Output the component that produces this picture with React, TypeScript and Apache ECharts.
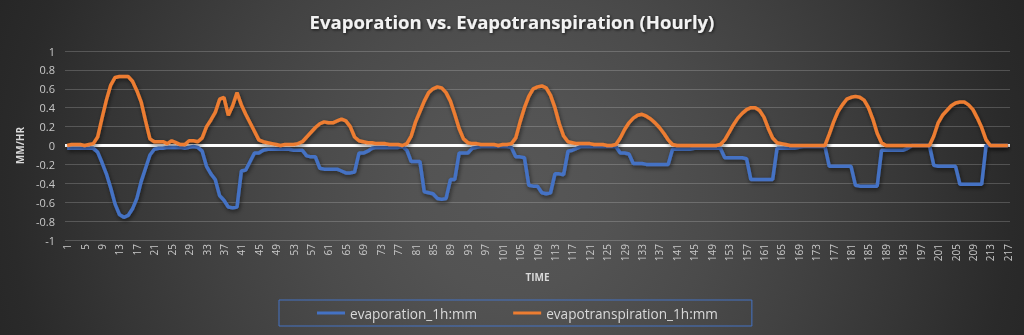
import React, { useEffect, useRef } from "react";
import * as echarts from "echarts";

const TITLE = "Evaporation vs. Evapotranspiration (Hourly)";
const EV_NAME = "evaporation_1h:mm";
const ET_NAME = "evapotranspiration_1h:mm";
const X_NAME = "TIME";
const Y_NAME = "MM/HR";

const hours: string[] = Array.from({ length: 217 }, (_, i) => String(i + 1));

const evaporation: number[] = [
  -0.03, -0.03, -0.03, -0.03, -0.03, -0.03, -0.03, -0.07, -0.18, -0.30,
  -0.45, -0.62, -0.73, -0.76, -0.74, -0.67, -0.56, -0.38, -0.24, -0.10,
  -0.04, -0.03, -0.03, -0.02, -0.02, -0.02, -0.02, -0.03, -0.02, -0.01,
  -0.02, -0.06, -0.22, -0.30, -0.36, -0.53, -0.58, -0.65, -0.66, -0.65,
  -0.27, -0.26, -0.17, -0.08, -0.08, -0.05, -0.04, -0.04, -0.04, -0.04,
  -0.04, -0.04, -0.05, -0.05, -0.05, -0.11, -0.12, -0.12, -0.24, -0.25,
  -0.25, -0.25, -0.25, -0.27, -0.29, -0.29, -0.28, -0.08, -0.08, -0.06,
  -0.03, -0.02, -0.02, -0.02, -0.02, -0.02, -0.02, -0.01, -0.05, -0.17,
  -0.17, -0.17, -0.49, -0.50, -0.51, -0.56, -0.57, -0.56, -0.36, -0.36,
  -0.08, -0.08, -0.08, -0.03, -0.02, -0.01, -0.01, -0.01, -0.01, -0.01,
  -0.01, -0.01, -0.02, -0.12, -0.12, -0.13, -0.42, -0.43, -0.43, -0.50,
  -0.51, -0.50, -0.30, -0.30, -0.31, -0.06, -0.05, -0.03, -0.01, -0.01,
  -0.01, -0.01, -0.01, -0.01, -0.01, -0.01, -0.01, -0.08, -0.08, -0.09,
  -0.19, -0.19, -0.19, -0.20, -0.20, -0.20, -0.20, -0.20, -0.20, -0.04,
  -0.04, -0.04, -0.04, -0.04, -0.03, -0.03, -0.03, -0.03, -0.03, -0.03,
  -0.03, -0.13, -0.13, -0.13, -0.13, -0.13, -0.14, -0.36, -0.36, -0.36,
  -0.36, -0.36, -0.36, -0.03, -0.03, -0.03, -0.03, -0.03, -0.02, -0.01,
  -0.01, -0.01, -0.01, -0.01, -0.01, -0.22, -0.22, -0.22, -0.22, -0.22,
  -0.22, -0.42, -0.43, -0.43, -0.43, -0.43, -0.43, -0.05, -0.05, -0.05,
  -0.05, -0.05, -0.05, -0.03, 0.0, 0.0, 0.0, 0.0, 0.0, -0.21,
  -0.22, -0.22, -0.22, -0.22, -0.22, -0.41, -0.41, -0.41, -0.41, -0.41,
  -0.41, 0.0, 0.0, 0.0, 0.0, 0.0, 0.0,
];

const evapotranspiration: number[] = [
  0.0, 0.01, 0.01, 0.01, 0.0, 0.01, 0.02, 0.09, 0.29, 0.48,
  0.64, 0.72, 0.73, 0.73, 0.73, 0.68, 0.58, 0.46, 0.26, 0.07,
  0.04, 0.04, 0.04, 0.02, 0.05, 0.03, 0.01, 0.01, 0.05, 0.05,
  0.04, 0.08, 0.2, 0.27, 0.35, 0.49, 0.51, 0.32, 0.42, 0.56,
  0.43, 0.33, 0.24, 0.15, 0.06, 0.04, 0.03, 0.02, 0.01, 0.0,
  0.01, 0.01, 0.01, 0.02, 0.04, 0.09, 0.14, 0.19, 0.23, 0.25,
  0.24, 0.24, 0.26, 0.28, 0.26, 0.2, 0.09, 0.05, 0.04, 0.03,
  0.03, 0.02, 0.02, 0.02, 0.01, 0.01, 0.01, 0.0, 0.02, 0.1,
  0.25, 0.36, 0.47, 0.56, 0.6, 0.62, 0.61, 0.56, 0.47, 0.33,
  0.18, 0.07, 0.03, 0.02, 0.02, 0.01, 0.01, 0.01, 0.01, 0.0,
  0.01, 0.01, 0.02, 0.08, 0.25, 0.4, 0.52, 0.6, 0.62, 0.63,
  0.61, 0.53, 0.4, 0.23, 0.1, 0.04, 0.03, 0.02, 0.02, 0.02,
  0.02, 0.01, 0.01, 0.01, 0.0, 0.0, 0.01, 0.08, 0.17, 0.24,
  0.29, 0.32, 0.33, 0.31, 0.28, 0.24, 0.19, 0.13, 0.06, 0.01,
  0.0, 0.0, 0.0, 0.0, 0.0, 0.0, 0.0, 0.0, 0.0, 0.0,
  0.01, 0.06, 0.14, 0.22, 0.29, 0.34, 0.38, 0.4, 0.4, 0.37,
  0.3, 0.18, 0.08, 0.03, 0.02, 0.01, 0.0, 0.0, 0.0, 0.0,
  0.0, 0.0, 0.0, 0.0, 0.0, 0.12, 0.25, 0.36, 0.43, 0.49,
  0.51, 0.52, 0.51, 0.48, 0.4, 0.28, 0.13, 0.03, 0.0, 0.0,
  0.0, 0.0, 0.0, 0.0, 0.0, 0.0, 0.0, 0.0, 0.0, 0.1,
  0.24, 0.32, 0.37, 0.42, 0.45, 0.46, 0.46, 0.43, 0.38, 0.29,
  0.19, 0.06, 0.0, 0.0, 0.0, 0.0, 0.0,
];

const zeroLine: (number | null)[] = hours.map(() => null);

const FONT = "'Open Sans', 'DejaVu Sans', sans-serif";

export default function App() {
  const ref = useRef<HTMLDivElement>(null);

  useEffect(() => {
    if (!ref.current) return;
    const chart = echarts.init(ref.current, undefined, { renderer: "svg" });
    const lineShadow = {
      shadowColor: "rgba(0,0,0,0.55)",
      shadowBlur: 4,
      shadowOffsetX: 1,
      shadowOffsetY: 2,
    };
    chart.setOption({
      animation: false,
      backgroundColor: "transparent",
      title: {
        text: TITLE,
        left: "center",
        top: 7,
        textStyle: {
          fontFamily: FONT,
          fontSize: 18.5,
          fontWeight: "bold",
          color: "#f2f2f2",
          textShadowColor: "rgba(0,0,0,0.7)",
          textShadowBlur: 3,
          textShadowOffsetX: 1,
          textShadowOffsetY: 1,
        },
      },
      legend: {
        data: [EV_NAME, ET_NAME],
        left: 279,
        top: 300,
        padding: [6, 34, 6, 38],
        itemGap: 36,
        itemWidth: 28,
        itemHeight: 3,
        icon: "rect",
        borderColor: "#4472c4",
        borderWidth: 1,
        textStyle: { fontFamily: FONT, fontSize: 13.6, color: "#d9d9d9" },
      },
      grid: { left: 65, right: 14, top: 51, bottom: 95, containLabel: false },
      xAxis: {
        type: "category",
        data: hours,
        boundaryGap: true,
        name: X_NAME,
        nameLocation: "middle",
        nameGap: 32,
        nameTextStyle: { fontFamily: FONT, fontSize: 10, fontWeight: "bold", color: "#d9d9d9" },
        axisLine: { show: false },
        axisTick: { show: false },
        axisLabel: {
          interval: 3,
          rotate: 90,
          margin: 4,
          fontFamily: FONT,
          fontSize: 10,
          color: "#c8c8c8",
        },
        splitLine: { show: false },
      },
      yAxis: {
        type: "value",
        min: -1,
        max: 1,
        interval: 0.2,
        name: Y_NAME,
        nameLocation: "middle",
        nameGap: 37,
        nameTextStyle: { fontFamily: FONT, fontSize: 10, fontWeight: "bold", color: "#d9d9d9" },
        axisLine: { show: false },
        axisTick: { show: false },
        axisLabel: {
          fontFamily: FONT,
          fontSize: 11,
          color: "#c8c8c8",
          margin: 10,
          formatter: (v: number) => String(Math.round(v * 10) / 10),
        },
        splitLine: { lineStyle: { color: "rgba(255,255,255,0.19)", width: 1 } },
      },
      series: [
        {
          name: "zero",
          type: "line",
          data: zeroLine,
          z: 1,
          symbol: "none",
          silent: true,
          markLine: {
            z: 1,
            silent: true,
            symbol: "none",
            label: { show: false },
            lineStyle: { color: "#ffffff", width: 3, type: "solid" },
            data: [{ yAxis: 0 }],
          },
        },
        {
          name: EV_NAME,
          type: "line",
          data: evaporation,
          z: 3,
          symbol: "none",
          color: "#4472c4",
          lineStyle: { color: "#4472c4", width: 3.5, ...lineShadow },
        },
        {
          name: ET_NAME,
          type: "line",
          data: evapotranspiration,
          z: 4,
          symbol: "none",
          color: "#ed7d31",
          lineStyle: { color: "#ed7d31", width: 3.5, ...lineShadow },
        },
      ],
    });
    return () => chart.dispose();
  }, []);

  return (
    <div
      style={{
        position: "fixed",
        left: 0,
        top: 0,
        width: 1024,
        height: 335,
        background:
          "radial-gradient(circle at 50% 58%, #575757 0px, #535353 100px, #4b4b4b 200px, #414141 300px, #363636 400px, #2a2a2a 500px, #212121 620px, #1c1c1c 760px)",
      }}
    >
      <div ref={ref} style={{ width: 1024, height: 335 }} />
    </div>
  );
}
